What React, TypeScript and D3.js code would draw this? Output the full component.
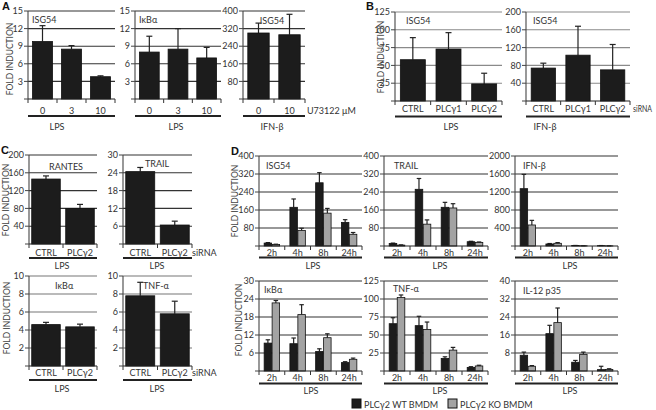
import React from "react";
import * as d3 from "d3";

// ---------- categories ----------
const catsDose = ["0", "3", "10"];
const catsDose2 = ["0", "10"];
const catsSi3 = ["CTRL", "PLCγ1", "PLCγ2"];
const catsSi2 = ["CTRL", "PLCγ2"];
const catsTime = ["2h", "4h", "8h", "24h"];

// ---------- panel A ----------
const aIsg54Lps = [9.8, 8.5, 3.8];
const aIsg54LpsErr = [12.5, 9.1, 3.95];
const aIkbaLps = [8.0, 8.5, 7.0];
const aIkbaLpsErr = [10.7, 12.0, 8.8];
const aIsg54Ifn = [300, 292];
const aIsg54IfnErr = [345, 385];

// ---------- panel B ----------
const bIsg54Lps = [58, 73, 24];
const bIsg54LpsErr = [89, 96, 39];
const bIsg54Ifn = [74, 103, 70];
const bIsg54IfnErr = [85, 168, 127];

// ---------- panel C ----------
const cRantes = [146, 80];
const cRantesErr = [153, 89];
const cTrail = [24.4, 6.4];
const cTrailErr = [25.8, 7.7];
const cIkba = [4.6, 4.35];
const cIkbaErr = [4.85, 4.65];
const cTnf = [7.8, 5.8];
const cTnfErr = [9.3, 7.2];

// ---------- panel D (WT / KO) ----------
const dIsg54Wt = [13, 172, 281, 105];
const dIsg54WtErr = [15, 209, 326, 117];
const dIsg54Ko = [7, 69, 146, 52];
const dIsg54KoErr = [8, 79, 167, 60];
const dTrailWt = [11, 252, 172, 19];
const dTrailWtErr = [13, 300, 194, 21];
const dTrailKo = [4, 97, 169, 16];
const dTrailKoErr = [5, 116, 188, 18];
const dIfnWt = [1274, 45, 10, 8];
const dIfnWtErr = [1592, 55, 12, 10];
const dIfnKo = [467, 60, 5, 3];
const dIfnKoErr = [570, 75, 6, 4];
const dIkbaWt = [9.3, 9.1, 6.5, 2.8];
const dIkbaWtErr = [10.4, 11.0, 7.4, 3.1];
const dIkbaKo = [22.7, 18.8, 11.1, 3.9];
const dIkbaKoErr = [23.5, 22.1, 12.4, 4.3];
const dTnfWt = [65.7, 63, 17.4, 5];
const dTnfWtErr = [74, 76, 19.7, 6];
const dTnfKo = [102, 57.7, 29, 7];
const dTnfKoErr = [105.6, 68, 32.8, 8];
const dIl12Wt = [7.0, 16.6, 3.9, 0.6];
const dIl12WtErr = [8.4, 20.3, 4.7, 2.1];
const dIl12Ko = [2.1, 21.5, 7.4, 0.7];
const dIl12KoErr = [2.4, 28, 8.4, 1.0];

const legendLabels = ["PLCγ2 WT BMDM", "PLCγ2 KO BMDM"];

const FONT = "Lato, 'Open Sans', 'DejaVu Sans', sans-serif";
const FS = 9;
const TXT = "#333";
const BAR_FILLS = ["#1c1c1c", "#a3a3a3"];

type Panel = {
  cats: string[];
  series: number[][];
  errs: number[][];
  max: number;
  step: number;
  title: string;
  group: string;
  extra?: string;
  x0: number; x1: number; yTop: number; yBot: number;
  pad: number;
  titleX: number; titleY: number; titleAnchor?: string;
  catY: number; lineY: number; groupX: number; groupY: number;
  extraX?: number; extraY?: number; extraLen?: number;
  grid: string;
};

const panels: Panel[] = [
  // A
  { cats: catsDose, series: [aIsg54Lps], errs: [aIsg54LpsErr], max: 15, step: 3, title: "ISG54", group: "LPS",
    x0: 28, x1: 115, yTop: 11, yBot: 99, pad: 0.31, titleX: 32, titleY: 22.5, catY: 113.5, lineY: 116, groupX: 57, groupY: 129.5, grid: "#333" },
  { cats: catsDose, series: [aIkbaLps], errs: [aIkbaLpsErr], max: 15, step: 3, title: "IκBα", group: "LPS",
    x0: 135, x1: 221, yTop: 11, yBot: 99, pad: 0.31, titleX: 139, titleY: 22.5, catY: 113.5, lineY: 116, groupX: 176, groupY: 129.5, grid: "#333" },
  { cats: catsDose2, series: [aIsg54Ifn], errs: [aIsg54IfnErr], max: 400, step: 80, title: "ISG54", group: "IFN-β",
    extra: "U73122 μM", extraX: 307, extraY: 113.5,
    x0: 243, x1: 305, yTop: 11, yBot: 99, pad: 0.31, titleX: 272, titleY: 24, titleAnchor: "middle", catY: 113.5, lineY: 116, groupX: 272, groupY: 129.5, grid: "#333" },
  // B
  { cats: catsSi3, series: [bIsg54Lps], errs: [bIsg54LpsErr], max: 125, step: 25, title: "ISG54", group: "LPS",
    x0: 395, x1: 502, yTop: 12, yBot: 101, pad: 0.3, titleX: 406, titleY: 23.5, catY: 112, lineY: 116.5, groupX: 451, groupY: 130, grid: "#8a8a8a" },
  { cats: catsSi3, series: [bIsg54Ifn], errs: [bIsg54IfnErr], max: 200, step: 40, title: "ISG54", group: "IFN-β",
    extra: "siRNA", extraX: 633, extraY: 112, extraLen: 19,
    x0: 526, x1: 630, yTop: 12, yBot: 101, pad: 0.3, titleX: 533, titleY: 23.5, catY: 112, lineY: 116.5, groupX: 545, groupY: 130, grid: "#8a8a8a" },
  // C
  { cats: catsSi2, series: [cRantes], errs: [cRantesErr], max: 200, step: 40, title: "RANTES", group: "LPS",
    x0: 29, x1: 97, yTop: 155, yBot: 244, pad: 0.16, titleX: 66, titleY: 169.5, titleAnchor: "middle", catY: 255.5, lineY: 258, groupX: 62, groupY: 268.5, grid: "#333" },
  { cats: catsSi2, series: [cTrail], errs: [cTrailErr], max: 30, step: 6, title: "TRAIL", group: "LPS",
    extra: "siRNA", extraX: 192, extraY: 255.5,
    x0: 123, x1: 192, yTop: 155, yBot: 244, pad: 0.16, titleX: 145, titleY: 167, catY: 255.5, lineY: 258, groupX: 157, groupY: 268.5, grid: "#333" },
  { cats: catsSi2, series: [cIkba], errs: [cIkbaErr], max: 10, step: 2, title: "IκBα", group: "LPS",
    x0: 29, x1: 97, yTop: 276, yBot: 366, pad: 0.16, titleX: 55, titleY: 289, catY: 376, lineY: 380, groupX: 62, groupY: 392, grid: "#777" },
  { cats: catsSi2, series: [cTnf], errs: [cTnfErr], max: 10, step: 2, title: "TNF-α", group: "LPS",
    extra: "siRNA", extraX: 192, extraY: 376,
    x0: 123, x1: 192, yTop: 276, yBot: 366, pad: 0.16, titleX: 143, titleY: 289, catY: 376, lineY: 380, groupX: 157, groupY: 392, grid: "#777" },
  // D top
  { cats: catsTime, series: [dIsg54Wt, dIsg54Ko], errs: [dIsg54WtErr, dIsg54KoErr], max: 400, step: 80, title: "ISG54", group: "LPS",
    x0: 259, x1: 362, yTop: 156, yBot: 246, pad: 0.4, titleX: 266, titleY: 169, catY: 255.5, lineY: 257.5, groupX: 313, groupY: 268.5, grid: "#333" },
  { cats: catsTime, series: [dTrailWt, dTrailKo], errs: [dTrailWtErr, dTrailKoErr], max: 400, step: 80, title: "TRAIL", group: "LPS",
    x0: 384, x1: 488, yTop: 156, yBot: 246, pad: 0.4, titleX: 394, titleY: 169, catY: 255.5, lineY: 257.5, groupX: 440, groupY: 268.5, grid: "#333" },
  { cats: catsTime, series: [dIfnWt, dIfnKo], errs: [dIfnWtErr, dIfnKoErr], max: 2000, step: 400, title: "IFN-β", group: "LPS",
    x0: 515, x1: 618, yTop: 156, yBot: 246, pad: 0.4, titleX: 523, titleY: 168.5, catY: 255.5, lineY: 257.5, groupX: 570, groupY: 268.5, grid: "#333" },
  // D bottom
  { cats: catsTime, series: [dIkbaWt, dIkbaKo], errs: [dIkbaWtErr, dIkbaKoErr], max: 30, step: 6, title: "IκBα", group: "LPS",
    x0: 259, x1: 362, yTop: 281, yBot: 371, pad: 0.4, titleX: 264, titleY: 293, catY: 381, lineY: 383.5, groupX: 311, groupY: 393.5, grid: "#333" },
  { cats: catsTime, series: [dTnfWt, dTnfKo], errs: [dTnfWtErr, dTnfKoErr], max: 125, step: 25, title: "TNF-α", group: "LPS",
    x0: 384, x1: 488, yTop: 281, yBot: 371, pad: 0.4, titleX: 393, titleY: 292, catY: 381, lineY: 383.5, groupX: 440, groupY: 393.5, grid: "#333" },
  { cats: catsTime, series: [dIl12Wt, dIl12Ko], errs: [dIl12WtErr, dIl12KoErr], max: 40, step: 8, title: "IL-12 p35", group: "LPS",
    x0: 515, x1: 618, yTop: 281, yBot: 371, pad: 0.4, titleX: 523, titleY: 294, catY: 381, lineY: 383.5, groupX: 570, groupY: 393.5, grid: "#333" },
];

const yLabels = [
  { x: 10, y: 59 },
  { x: 381, y: 57 },
  { x: 6, y: 200 },
  { x: 7, y: 318 },
  { x: 235, y: 201 },
  { x: 239, y: 320 },
];

const letters = [
  { t: "A", x: 2, y: 10 },
  { t: "B", x: 366, y: 10 },
  { t: "C", x: 1, y: 154 },
  { t: "D", x: 231, y: 155 },
];

function BarPanel({ p }: { p: Panel }) {
  const x = d3.scaleBand<string>().domain(p.cats).range([p.x0, p.x1]).paddingInner(p.pad).paddingOuter(p.pad / 2);
  const y = d3.scaleLinear().domain([0, p.max]).range([p.yBot, p.yTop]);
  const ticks = d3.range(p.step, p.max + p.step / 2, p.step);
  const sub = d3.scaleBand<number>().domain(d3.range(p.series.length)).range([0, x.bandwidth()]).paddingInner(p.series.length > 1 ? 0.06 : 0);
  const stepW = x.step();
  const bounds = d3.range(p.cats.length + 1).map((i) => p.x0 + i * stepW);
  return (
    <g>
      {ticks.map((t) => (
        <line key={"g" + t} x1={p.x0} x2={p.x1} y1={y(t)} y2={y(t)} stroke={p.grid} strokeWidth={1.1} />
      ))}
      {ticks.map((t) => (
        <text key={"t" + t} x={p.x0 - 5} y={y(t)} dy="0.35em" textAnchor="end" fontSize={FS} fill={TXT} fontFamily={FONT}>
          {t}
        </text>
      ))}
      {[0, ...ticks].map((t) => (
        <line key={"yt" + t} x1={p.x0 - 4} x2={p.x0} y1={y(t)} y2={y(t)} stroke="#444" strokeWidth={1} />
      ))}
      {p.series.map((s, si) =>
        s.map((v, i) => {
          const bx = (x(p.cats[i]) as number) + (sub(si) as number);
          const bw = sub.bandwidth();
          const cx = bx + bw / 2;
          const e = p.errs[si][i];
          const cw = Math.min(6, bw * 0.6);
          return (
            <g key={si + "-" + i}>
              <line x1={cx} x2={cx} y1={y(v)} y2={y(e)} stroke="#222" strokeWidth={1.2} />
              <line x1={cx - cw / 2} x2={cx + cw / 2} y1={y(e)} y2={y(e)} stroke="#222" strokeWidth={1.2} />
              <rect x={bx} y={y(v)} width={bw} height={p.yBot - y(v)} fill={BAR_FILLS[si]} stroke="#111" strokeWidth={0.8} />
            </g>
          );
        })
      )}
      <line x1={p.x0} x2={p.x0} y1={p.yBot} y2={p.yTop} stroke="#444" strokeWidth={1.1} />
      <line x1={p.x0} x2={p.x1} y1={p.yBot} y2={p.yBot} stroke="#222" strokeWidth={1.2} />
      {bounds.map((b, i) => (
        <line key={"xb" + i} x1={b} x2={b} y1={p.yBot} y2={p.yBot + 4} stroke="#333" strokeWidth={1} />
      ))}
      {p.cats.map((c) => (
        <text key={"c" + c} x={(x(c) as number) + x.bandwidth() / 2} y={p.catY} textAnchor="middle" fontSize={FS} fill={TXT} fontFamily={FONT}>
          {c}
        </text>
      ))}
      <line x1={p.x0} x2={p.x1} y1={p.lineY} y2={p.lineY} stroke="#222" strokeWidth={2} />
      <text x={p.groupX} y={p.groupY} textAnchor="middle" fontSize={FS} fill={TXT} fontFamily={FONT}>
        {p.group}
      </text>
      <text x={p.titleX} y={p.titleY} textAnchor={p.titleAnchor || "start"} fontSize={FS} fill={TXT} fontFamily={FONT}>
        {p.title}
      </text>
      {p.extra && (
        <text x={p.extraX} y={p.extraY} fontSize={p.extraLen ? 8.5 : FS} fill={TXT} fontFamily={FONT}
          textLength={p.extraLen} lengthAdjust={p.extraLen ? "spacingAndGlyphs" : undefined}>
          {p.extra}
        </text>
      )}
    </g>
  );
}

export default function App() {
  return (
    <svg width={656} height={410} style={{ position: "absolute", left: 0, top: 0, background: "#fff" }}>
      <rect width={656} height={410} fill="#fff" />
      {panels.map((p, i) => (
        <BarPanel key={i} p={p} />
      ))}
      {yLabels.map((l, i) => (
        <text key={"yl" + i} transform={`translate(${l.x},${l.y}) rotate(-90)`} textAnchor="middle" dy="0.35em" fontSize={8.5} fill="#444" fontFamily={FONT}>
          FOLD INDUCTION
        </text>
      ))}
      {letters.map((l) => (
        <text key={l.t} x={l.x} y={l.y} fontSize={11} fontWeight="bold" fill="#111" fontFamily="'Liberation Sans', Arial, sans-serif">
          {l.t}
        </text>
      ))}
      <g>
        <rect x={352} y={399} width={9} height={9} fill={BAR_FILLS[0]} stroke="#111" />
        <text x={364} y={407.5} fontSize={FS} fill={TXT} fontFamily={FONT}>{legendLabels[0]}</text>
        <rect x={448} y={399} width={9} height={9} fill={BAR_FILLS[1]} stroke="#111" />
        <text x={460} y={407.5} fontSize={FS} fill={TXT} fontFamily={FONT}>{legendLabels[1]}</text>
      </g>
    </svg>
  );
}
